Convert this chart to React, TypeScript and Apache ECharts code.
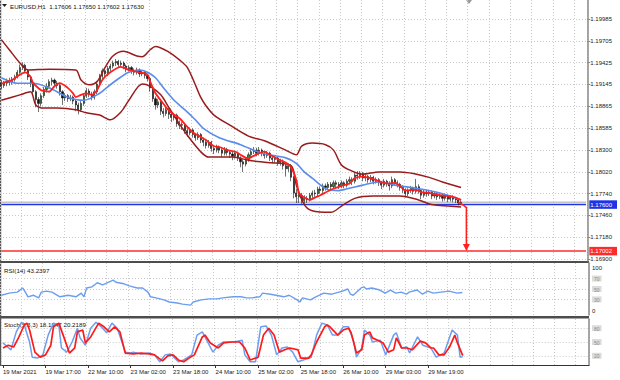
import React, { useEffect, useRef } from 'react';
import * as echarts from 'echarts';

// ---------- DATA ----------
const title = 'EURUSD,H1  1.17606 1.17650 1.17602 1.17630';
const rsiTitle = 'RSI(14) 43.2397';
const stochTitle = 'Stoch(5,3,3) 18.1947 20.2189';

const totalBars = 221;
const timeLabels = ['19 Mar 2021', '19 Mar 17:00', '22 Mar 10:00', '23 Mar 02:00', '23 Mar 18:00', '24 Mar 10:00', '25 Mar 02:00', '25 Mar 18:00', '26 Mar 10:00', '29 Mar 03:00', '29 Mar 19:00'];
const timeLabelBars = [0, 16, 32, 48, 64, 80, 96, 112, 128, 144, 160];

const priceTicks = [1.169, 1.1718, 1.1746, 1.1774, 1.1802, 1.183, 1.18585, 1.18865, 1.19145, 1.19425, 1.19705, 1.19985];
const supportLevel = 1.176;
const targetLevel = 1.17002;
const bidPrice = 1.1763;
const rsiLevels = [30, 50, 70];
const stochLevels = [20, 50, 80];

// [open, close, low, high]
const candles = [
  [1.1916, 1.1913, 1.1908, 1.1920], [1.1913, 1.1916, 1.1910, 1.1919], [1.1916, 1.1919, 1.1912, 1.1922], [1.1919, 1.1917, 1.1913, 1.1923], [1.1917, 1.1921, 1.1914, 1.1924], [1.1921, 1.1924, 1.1918, 1.1927],
  [1.1924, 1.1930, 1.1922, 1.1933], [1.1930, 1.1936, 1.1928, 1.1940], [1.1936, 1.1939, 1.1933, 1.1943], [1.1939, 1.1932, 1.1929, 1.1941], [1.1932, 1.1924, 1.1920, 1.1934], [1.1924, 1.1915, 1.1911, 1.1926],
  [1.1915, 1.1905, 1.1900, 1.1917], [1.1905, 1.1895, 1.1885, 1.1907], [1.1895, 1.1890, 1.1879, 1.1898], [1.1890, 1.1900, 1.1886, 1.1903], [1.1900, 1.1908, 1.1897, 1.1911], [1.1908, 1.1912, 1.1904, 1.1916],
  [1.1912, 1.1918, 1.1909, 1.1921], [1.1918, 1.1920, 1.1913, 1.1923], [1.1920, 1.1916, 1.1912, 1.1922], [1.1916, 1.1913, 1.1909, 1.1919], [1.1913, 1.1905, 1.1900, 1.1915], [1.1905, 1.1897, 1.1888, 1.1907],
  [1.1897, 1.1900, 1.1893, 1.1903], [1.1900, 1.1896, 1.1892, 1.1902], [1.1896, 1.1898, 1.1893, 1.1901], [1.1898, 1.1893, 1.1889, 1.1900], [1.1893, 1.1888, 1.1880, 1.1895], [1.1888, 1.1882, 1.1876, 1.1891],
  [1.1882, 1.1890, 1.1879, 1.1893], [1.1890, 1.1900, 1.1887, 1.1903], [1.1900, 1.1906, 1.1897, 1.1910], [1.1906, 1.1902, 1.1898, 1.1909], [1.1902, 1.1898, 1.1894, 1.1905], [1.1898, 1.1905, 1.1895, 1.1908],
  [1.1905, 1.1915, 1.1902, 1.1918], [1.1915, 1.1925, 1.1912, 1.1928], [1.1925, 1.1932, 1.1921, 1.1935], [1.1932, 1.1928, 1.1924, 1.1934], [1.1928, 1.1935, 1.1925, 1.1938], [1.1935, 1.1938, 1.1931, 1.1941],
  [1.1938, 1.1942, 1.1935, 1.1945], [1.1942, 1.1944, 1.1938, 1.1947], [1.1944, 1.1940, 1.1936, 1.1946], [1.1940, 1.1942, 1.1937, 1.1945], [1.1942, 1.1938, 1.1934, 1.1944], [1.1938, 1.1934, 1.1930, 1.1940],
  [1.1934, 1.1936, 1.1931, 1.1939], [1.1936, 1.1932, 1.1928, 1.1938], [1.1932, 1.1930, 1.1926, 1.1935], [1.1930, 1.1933, 1.1927, 1.1936], [1.1933, 1.1928, 1.1924, 1.1935], [1.1928, 1.1930, 1.1925, 1.1933],
  [1.1930, 1.1926, 1.1922, 1.1932], [1.1926, 1.1922, 1.1918, 1.1928], [1.1922, 1.1910, 1.1905, 1.1924], [1.1910, 1.1896, 1.1892, 1.1912], [1.1896, 1.1888, 1.1882, 1.1899], [1.1888, 1.1892, 1.1884, 1.1896],
  [1.1892, 1.1880, 1.1875, 1.1894], [1.1880, 1.1877, 1.1872, 1.1884], [1.1877, 1.1882, 1.1874, 1.1886], [1.1882, 1.1876, 1.1870, 1.1884], [1.1876, 1.1872, 1.1866, 1.1879], [1.1872, 1.1875, 1.1868, 1.1878],
  [1.1875, 1.1864, 1.1860, 1.1877], [1.1864, 1.1862, 1.1857, 1.1868], [1.1862, 1.1863, 1.1856, 1.1866], [1.1863, 1.1855, 1.1851, 1.1865], [1.1855, 1.1852, 1.1847, 1.1858], [1.1852, 1.1856, 1.1849, 1.1859],
  [1.1856, 1.1850, 1.1846, 1.1858], [1.1850, 1.1846, 1.1842, 1.1852], [1.1846, 1.1850, 1.1843, 1.1853], [1.1850, 1.1843, 1.1839, 1.1852], [1.1843, 1.1840, 1.1835, 1.1846], [1.1840, 1.1836, 1.1832, 1.1843],
  [1.1836, 1.1840, 1.1833, 1.1843], [1.1840, 1.1832, 1.1828, 1.1842], [1.1832, 1.1830, 1.1825, 1.1835], [1.1830, 1.1834, 1.1827, 1.1837], [1.1834, 1.1830, 1.1826, 1.1836], [1.1830, 1.1826, 1.1821, 1.1832],
  [1.1826, 1.1831, 1.1823, 1.1834], [1.1831, 1.1827, 1.1823, 1.1833], [1.1827, 1.1825, 1.1820, 1.1830], [1.1825, 1.1822, 1.1817, 1.1828], [1.1822, 1.1826, 1.1819, 1.1829], [1.1826, 1.1820, 1.1816, 1.1828],
  [1.1820, 1.1815, 1.1808, 1.1822], [1.1815, 1.1812, 1.1802, 1.1818], [1.1812, 1.1818, 1.1809, 1.1821], [1.1818, 1.1824, 1.1815, 1.1827], [1.1824, 1.1828, 1.1821, 1.1832], [1.1828, 1.1830, 1.1825, 1.1834],
  [1.1830, 1.1826, 1.1822, 1.1833], [1.1826, 1.1830, 1.1823, 1.1834], [1.1830, 1.1826, 1.1822, 1.1832], [1.1826, 1.1823, 1.1819, 1.1829], [1.1823, 1.1826, 1.1820, 1.1829], [1.1826, 1.1820, 1.1816, 1.1828],
  [1.1820, 1.1818, 1.1813, 1.1823], [1.1818, 1.1820, 1.1814, 1.1823], [1.1820, 1.1814, 1.1810, 1.1822], [1.1814, 1.1816, 1.1810, 1.1819], [1.1816, 1.1810, 1.1805, 1.1818], [1.1810, 1.1806, 1.1796, 1.1812],
  [1.1806, 1.1810, 1.1802, 1.1813], [1.1810, 1.1795, 1.1790, 1.1812], [1.1795, 1.1775, 1.1768, 1.1797], [1.1775, 1.1770, 1.1762, 1.1780], [1.1770, 1.1772, 1.1762, 1.1778], [1.1772, 1.1765, 1.1761, 1.1775],
  [1.1765, 1.1768, 1.1761, 1.1772], [1.1768, 1.1766, 1.1762, 1.1771], [1.1766, 1.1772, 1.1764, 1.1775], [1.1772, 1.1775, 1.1768, 1.1778], [1.1775, 1.1774, 1.1770, 1.1779], [1.1774, 1.1780, 1.1771, 1.1783],
  [1.1780, 1.1778, 1.1774, 1.1783], [1.1778, 1.1784, 1.1775, 1.1787], [1.1784, 1.1782, 1.1778, 1.1787], [1.1782, 1.1786, 1.1779, 1.1789], [1.1786, 1.1783, 1.1779, 1.1789], [1.1783, 1.1788, 1.1780, 1.1791],
  [1.1788, 1.1786, 1.1782, 1.1791], [1.1786, 1.1784, 1.1780, 1.1789], [1.1784, 1.1788, 1.1781, 1.1791], [1.1788, 1.1785, 1.1781, 1.1790], [1.1785, 1.1790, 1.1782, 1.1793], [1.1790, 1.1792, 1.1786, 1.1796],
  [1.1792, 1.1790, 1.1785, 1.1795], [1.1790, 1.1798, 1.1787, 1.1801], [1.1798, 1.1797, 1.1792, 1.1803], [1.1797, 1.1800, 1.1793, 1.1803], [1.1800, 1.1794, 1.1790, 1.1802], [1.1794, 1.1796, 1.1790, 1.1799],
  [1.1796, 1.1792, 1.1788, 1.1798], [1.1792, 1.1795, 1.1789, 1.1798], [1.1795, 1.1790, 1.1786, 1.1797], [1.1790, 1.1792, 1.1787, 1.1795], [1.1792, 1.1788, 1.1784, 1.1794], [1.1788, 1.1785, 1.1780, 1.1790],
  [1.1785, 1.1790, 1.1782, 1.1793], [1.1790, 1.1787, 1.1783, 1.1792], [1.1787, 1.1784, 1.1778, 1.1790], [1.1784, 1.1792, 1.1781, 1.1796], [1.1792, 1.1788, 1.1784, 1.1794], [1.1788, 1.1786, 1.1782, 1.1791],
  [1.1786, 1.1782, 1.1778, 1.1788], [1.1782, 1.1779, 1.1775, 1.1785], [1.1779, 1.1774, 1.1769, 1.1781], [1.1774, 1.1778, 1.1771, 1.1781], [1.1778, 1.1781, 1.1775, 1.1784], [1.1781, 1.1777, 1.1773, 1.1783],
  [1.1777, 1.1783, 1.1774, 1.1793], [1.1783, 1.1778, 1.1774, 1.1786], [1.1778, 1.1772, 1.1767, 1.1780], [1.1772, 1.1776, 1.1769, 1.1779], [1.1776, 1.1774, 1.1770, 1.1779], [1.1774, 1.1776, 1.1771, 1.1779],
  [1.1776, 1.1771, 1.1767, 1.1778], [1.1771, 1.1774, 1.1768, 1.1777], [1.1774, 1.1770, 1.1766, 1.1776], [1.1770, 1.1772, 1.1767, 1.1775], [1.1772, 1.1768, 1.1764, 1.1774], [1.1768, 1.1771, 1.1765, 1.1774],
  [1.1771, 1.1767, 1.1763, 1.1773], [1.1767, 1.1770, 1.1764, 1.1772], [1.1770, 1.1767, 1.1763, 1.1772], [1.1767, 1.1766, 1.1762, 1.1770], [1.1766, 1.1762, 1.1759, 1.1768], [1.17606, 1.1763, 1.17602, 1.1765],
];

// [bar index, price]
const upperBand = [[0, 1.1972], [3, 1.1959], [7, 1.1942], [10, 1.1933], [18, 1.1934], [28, 1.1933], [30, 1.1920], [33, 1.1914], [36, 1.1918], [39, 1.1936], [42, 1.1951], [46, 1.1957], [51, 1.1951], [53, 1.1950], [56, 1.1959], [58, 1.1963], [63, 1.1956], [67, 1.1946], [70, 1.1936], [73, 1.1914], [75, 1.1898], [77, 1.1887], [80, 1.1875], [86, 1.1862], [93, 1.1848], [99, 1.1842], [107, 1.1830], [111, 1.1824], [113, 1.1835], [117, 1.1839], [122, 1.1837], [125, 1.1830], [128, 1.1811], [132, 1.1803], [136, 1.1799], [142, 1.1802], [150, 1.1802], [155, 1.1800], [161, 1.1795], [166, 1.1789], [173, 1.1782]];
const lowerBand = [[0, 1.1894], [7, 1.1901], [11, 1.1905], [13, 1.1888], [16, 1.1884], [21, 1.1884], [28, 1.1882], [32, 1.1878], [37, 1.1875], [41, 1.1869], [45, 1.1879], [48, 1.1894], [53, 1.1915], [56, 1.1912], [60, 1.1901], [63, 1.1885], [66, 1.1869], [70, 1.1849], [75, 1.1828], [78, 1.1821], [87, 1.1821], [93, 1.1817], [100, 1.1814], [109, 1.1810], [111, 1.1785], [114, 1.1760], [117, 1.1752], [124, 1.1750], [128, 1.1758], [133, 1.1768], [140, 1.1771], [150, 1.1771], [157, 1.1766], [162, 1.1760], [173, 1.1757]];
const blueMA = [[0, 1.1923], [6, 1.1916], [12, 1.1916], [18, 1.1910], [25, 1.1898], [31, 1.1894], [37, 1.1903], [41, 1.1914], [45, 1.1924], [48, 1.1930], [52, 1.1933], [55, 1.1930], [58, 1.1923], [61, 1.1910], [65, 1.1894], [69, 1.1882], [73, 1.1869], [76, 1.1858], [82, 1.1846], [90, 1.1837], [98, 1.1826], [107, 1.1820], [111, 1.1813], [114, 1.1802], [117, 1.1794], [123, 1.1779], [127, 1.1778], [131, 1.1781], [136, 1.1785], [142, 1.1789], [148, 1.1785], [156, 1.1781], [165, 1.1775], [173, 1.1766]];
const redMA = [[0, 1.1915], [2, 1.1918], [4, 1.1920], [7, 1.1927], [9, 1.1930], [11, 1.1924], [12, 1.1916], [15, 1.1907], [16, 1.1906], [18, 1.1905], [20, 1.1912], [22, 1.1916], [25, 1.1910], [27, 1.1903], [28, 1.1898], [30, 1.1901], [32, 1.1903], [34, 1.1901], [36, 1.1907], [38, 1.1920], [41, 1.1930], [45, 1.1937], [48, 1.1933], [52, 1.1930], [55, 1.1927], [56, 1.1918], [58, 1.1903], [60, 1.1894], [62, 1.1885], [64, 1.1878], [67, 1.1871], [70, 1.1860], [72, 1.1853], [75, 1.1847], [77, 1.1843], [80, 1.1835], [82, 1.1834], [85, 1.1830], [88, 1.1828], [90, 1.1824], [93, 1.1819], [94, 1.1821], [97, 1.1826], [99, 1.1828], [101, 1.1824], [105, 1.1817], [107, 1.1814], [109, 1.1808], [111, 1.1792], [112, 1.1775], [114, 1.1769], [116, 1.1766], [118, 1.1769], [120, 1.1772], [124, 1.1779], [128, 1.1784], [131, 1.1787], [133, 1.1794], [136, 1.1796], [139, 1.1794], [143, 1.1789], [146, 1.1787], [148, 1.1788], [150, 1.1784], [152, 1.1778], [156, 1.1779], [158, 1.1776], [161, 1.1775], [165, 1.1772], [170, 1.1770], [173, 1.1766]];
const arrowPath = [[172, 1.1763], [174, 1.1759], [175, 1.1756], [175, 1.1706]];
const arrowHead = [175, 1.17048];

const rsiLine = [[0, 38], [3, 42], [6, 44], [8, 52], [9, 44], [10, 35], [12, 38], [14, 33], [15, 44], [17, 46], [19, 44], [22, 35], [25, 38], [28, 35], [30, 42], [31, 35], [32, 52], [34, 54], [36, 62], [38, 58], [42, 67], [43, 63], [46, 60], [48, 56], [51, 52], [53, 52], [55, 44], [56, 35], [58, 33], [61, 29], [63, 25], [66, 23], [68, 21], [71, 19], [72, 25], [75, 29], [78, 31], [81, 31], [83, 33], [87, 35], [90, 35], [92, 33], [94, 33], [97, 35], [98, 42], [101, 40], [103, 38], [106, 35], [108, 38], [111, 29], [112, 25], [113, 33], [116, 29], [118, 35], [121, 42], [124, 40], [128, 46], [130, 50], [131, 40], [132, 38], [135, 52], [136, 54], [137, 50], [139, 52], [142, 48], [144, 42], [146, 48], [148, 42], [150, 44], [152, 40], [153, 44], [156, 48], [158, 40], [160, 46], [162, 42], [165, 44], [168, 46], [171, 42], [173, 43.24]];
const stochMain = [[0, 48], [1, 43], [3, 33], [5, 72], [7, 93], [8, 87], [10, 50], [11, 17], [13, 15], [15, 22], [17, 65], [19, 91], [21, 87], [22, 37], [24, 28], [26, 50], [28, 80], [29, 59], [31, 43], [33, 80], [35, 93], [37, 83], [39, 70], [41, 91], [43, 80], [46, 28], [48, 26], [49, 28], [52, 24], [55, 26], [57, 22], [59, 7], [61, 22], [63, 24], [66, 7], [68, 11], [71, 22], [73, 65], [75, 72], [77, 50], [79, 28], [81, 43], [83, 50], [87, 50], [90, 54], [91, 22], [93, 7], [95, 7], [97, 83], [99, 85], [101, 65], [103, 22], [105, 37], [107, 39], [109, 28], [111, 7], [113, 11], [116, 17], [118, 65], [120, 91], [122, 87], [124, 65], [126, 65], [128, 83], [130, 83], [132, 50], [133, 17], [135, 37], [136, 76], [138, 65], [139, 50], [142, 54], [144, 22], [147, 65], [148, 70], [150, 37], [152, 39], [153, 26], [156, 61], [158, 43], [161, 37], [163, 17], [166, 26], [169, 76], [171, 65], [172, 17], [173, 18.19]];
const stochSignal = [[0, 37], [2, 43], [4, 39], [6, 61], [8, 87], [9, 91], [10, 76], [12, 28], [14, 17], [16, 22], [18, 43], [19, 83], [21, 91], [23, 59], [25, 26], [27, 37], [28, 72], [30, 76], [31, 48], [33, 61], [36, 91], [38, 83], [40, 72], [42, 83], [44, 72], [46, 26], [49, 24], [52, 26], [55, 24], [57, 22], [60, 9], [62, 20], [64, 22], [66, 11], [68, 7], [70, 15], [72, 22], [75, 61], [76, 65], [78, 48], [81, 37], [83, 48], [86, 50], [89, 50], [91, 37], [93, 11], [96, 17], [98, 65], [100, 80], [102, 65], [104, 28], [106, 33], [108, 37], [111, 33], [112, 15], [115, 15], [116, 22], [118, 50], [121, 83], [122, 87], [123, 83], [126, 65], [128, 76], [130, 80], [131, 70], [133, 26], [135, 33], [136, 65], [138, 72], [139, 59], [141, 54], [143, 48], [145, 28], [147, 33], [148, 59], [150, 37], [152, 37], [154, 33], [157, 52], [159, 48], [161, 37], [162, 37], [164, 22], [166, 22], [168, 39], [170, 65], [171, 48], [173, 20.22]];

// ---------- STYLE ----------
const FONT = 'Liberation Sans';
const GRID_DOT = { color: '#c9c9c9', type: [1, 2] as number[], width: 1 };

function buildOption() {
  const categories = Array.from({ length: totalBars }, (_, i) => {
    const k = timeLabelBars.indexOf(i);
    return k >= 0 ? timeLabels[k] : '#' + i;
  });
  const isLabelBar = (i: number) => timeLabelBars.indexOf(i) >= 0;

  const xAxis = [0, 1, 2].map((g) => ({
    type: 'category',
    gridIndex: g,
    data: categories,
    boundaryGap: true,
    axisLine: { show: g === 2, lineStyle: { color: '#333', width: 1 } },
    axisTick: { show: g === 2, interval: isLabelBar, alignWithLabel: true, length: 3, lineStyle: { color: '#333' } },
    axisLabel: {
      show: g === 2, interval: isLabelBar, align: 'left', fontSize: 6, color: '#222', margin: 4, fontFamily: FONT,
      formatter: (v: string) => (v.charAt(0) === '#' ? '' : v),
    },
    splitLine: { show: true, interval: (i: number) => i % 8 === 0, lineStyle: GRID_DOT },
  }));

  const near = (a: number, b: number) => Math.abs(a - b) < 1e-7;
  const priceFormatter = (v: number) => {
    if (near(v, supportLevel)) return '{b|' + v.toFixed(5) + '}';
    if (near(v, targetLevel)) return '{r|' + v.toFixed(5) + '}';
    return '{n|' + v.toFixed(5) + '}';
  };
  const panelFormatter = (v: number) => {
    if (v >= 99.9) return '{gap| }\n{t|100}';
    if (v <= 0.1) return '{t|0}\n{gap| }';
    return '{lv|' + Math.round(v) + '}';
  };
  const panelRich = {
    t: { fontSize: 6, color: '#222', lineHeight: 7, fontFamily: FONT },
    gap: { fontSize: 6, lineHeight: 9, fontFamily: FONT },
    lv: { fontSize: 5, color: '#8c8c8c', backgroundColor: '#dcdcdc', padding: [1, 2, 0, 2], fontFamily: FONT },
  };
  const axisLineStyle = { show: true, lineStyle: { color: '#8a8a8a', width: 1.5 } };

  const yAxis = [
    {
      type: 'value', gridIndex: 0, position: 'right', min: 1.16875, max: 1.20229,
      axisLine: axisLineStyle,
      axisTick: { show: true, customValues: priceTicks, length: 3, lineStyle: { color: '#8a8a8a' } },
      axisLabel: {
        customValues: [...priceTicks, supportLevel, targetLevel], margin: 2, formatter: priceFormatter,
        rich: {
          n: { fontSize: 6, color: '#222', fontFamily: FONT, padding: [0, 0, 0, 1] },
          b: { fontSize: 6, color: '#fff', backgroundColor: '#1f33e6', padding: [1.5, 5, 1, 1], fontFamily: FONT },
          r: { fontSize: 6, color: '#fff', backgroundColor: '#ff2b2b', padding: [1.5, 5, 1, 1], fontFamily: FONT },
        },
      },
      splitLine: { show: true, lineStyle: GRID_DOT },
    },
    {
      type: 'value', gridIndex: 1, position: 'right', min: 0, max: 100,
      axisLine: axisLineStyle,
      axisTick: { show: false, customValues: rsiLevels },
      axisLabel: { customValues: [0, ...rsiLevels, 100], margin: 3, formatter: panelFormatter, rich: panelRich },
      splitLine: { show: true, lineStyle: GRID_DOT },
    },
    {
      type: 'value', gridIndex: 2, position: 'right', min: 0, max: 100,
      axisLine: axisLineStyle,
      axisTick: { show: false, customValues: stochLevels },
      axisLabel: { customValues: [0, ...stochLevels, 100], margin: 3, formatter: panelFormatter, rich: panelRich },
      splitLine: { show: true, lineStyle: GRID_DOT },
    },
  ];

  const line = (data: number[][], color: string, width: number, g: number, smooth: number | boolean = false, z = 3) => ({
    type: 'line', xAxisIndex: g, yAxisIndex: g, data, showSymbol: false, symbol: 'none', smooth,
    lineStyle: { color, width }, silent: true, z,
  });
  const level = (price: number) => [[0, price], [totalBars - 1, price]];

  return {
    animation: false,
    backgroundColor: '#ffffff',
    textStyle: { fontFamily: FONT },
    grid: [
      { left: 0, right: 31, top: 0, height: 261 },
      { left: 0, right: 31, top: 263, height: 52 },
      { left: 0, right: 31, top: 319, height: 46 },
    ],
    xAxis,
    yAxis,
    series: [
      line(level(bidPrice), '#c4c4c4', 1.5, 0, false, 1),
      line(level(supportLevel), '#1f33e6', 1.5, 0, false, 1),
      line(level(targetLevel), '#ff2b2b', 1.5, 0, false, 1),
      {
        type: 'candlestick', xAxisIndex: 0, yAxisIndex: 0, data: candles, barWidth: 1.6, silent: true, z: 2,
        itemStyle: { color: '#2f9a2f', color0: '#111', borderColor: '#111', borderColor0: '#111', borderWidth: 0.6 },
      },
      line(upperBand, '#991b1b', 1.5, 0, 0.3),
      line(lowerBand, '#991b1b', 1.5, 0, 0.3),
      line(blueMA, '#5a8cec', 1.6, 0, 0.3),
      line(redMA, '#ff1f1f', 1.8, 0, 0.25),
      {
        type: 'line', xAxisIndex: 0, yAxisIndex: 0, data: arrowPath, symbol: 'none', showSymbol: false,
        lineStyle: { color: '#ff2020', width: 1.6 }, silent: true, z: 5,
        markPoint: {
          silent: true, symbol: 'triangle', symbolSize: [7, 7], symbolRotate: 180,
          itemStyle: { color: '#ff2020' }, label: { show: false },
          data: [{ coord: arrowHead }],
        },
      },
      line(rsiLine, '#6c9ef0', 1.4, 1),
      line(stochMain, '#6c9ef0', 1.5, 2),
      line(stochSignal, '#ff1a1a', 1.7, 2),
    ],
    graphic: [
      { type: 'rect', shape: { x: 0, y: 261, width: 589, height: 2 }, style: { fill: '#4d4d4d' }, silent: true },
      { type: 'rect', shape: { x: 0, y: 316, width: 589, height: 2.5 }, style: { fill: '#4d4d4d' }, silent: true },
      { type: 'rect', shape: { x: 0, y: 0, width: 1.2, height: 366 }, style: { fill: '#555' }, silent: true },
      { type: 'polygon', shape: { points: [[2, 4], [7, 4], [4.5, 7]] }, style: { fill: '#222' }, silent: true },
      { type: 'polygon', shape: { points: [[466, 0], [472, 0], [469, 4]] }, style: { fill: '#9a9a9a' }, silent: true },
      { type: 'text', x: 10, y: 6, style: { text: title, fill: '#111', fontSize: 6.2, fontFamily: FONT, verticalAlign: 'middle' }, silent: true },
      { type: 'text', x: 4, y: 270, style: { text: rsiTitle, fill: '#111', fontSize: 6.2, fontFamily: FONT, verticalAlign: 'middle' }, silent: true },
      { type: 'text', x: 4, y: 324, style: { text: stochTitle, fill: '#111', fontSize: 6.2, fontFamily: FONT, verticalAlign: 'middle' }, silent: true },
    ],
  };
}

export default function App() {
  const ref = useRef<HTMLDivElement>(null);
  useEffect(() => {
    document.body.style.margin = '0';
    const chart = echarts.init(ref.current as HTMLDivElement, undefined, { renderer: 'svg' });
    chart.setOption(buildOption() as any);
    return () => chart.dispose();
  }, []);
  return <div ref={ref} style={{ width: 620, height: 380, background: '#fff' }} />;
}
